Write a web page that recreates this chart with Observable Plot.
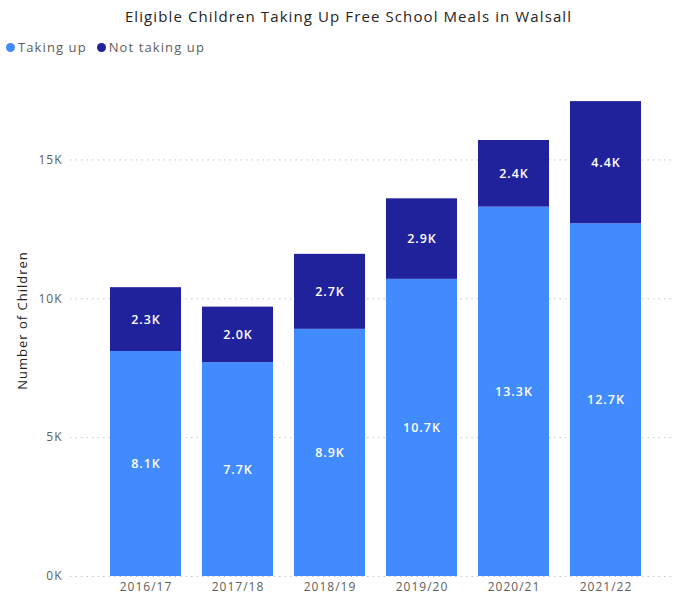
<!DOCTYPE html>
<html>
<head>
<meta charset="utf-8">
<script src="https://cdn.jsdelivr.net/npm/d3@7"></script>
<script src="https://cdn.jsdelivr.net/npm/@observablehq/plot@0.6"></script>
<style>
  html, body { margin: 0; padding: 0; background: #fff; }
  body { width: 685px; height: 601px; overflow: hidden; font-family: "Open Sans", "Segoe UI", sans-serif; }
  #title { height: 32px; line-height: 32px; text-align: center; padding-left: 12px; font-size: 15px; letter-spacing: 1.1px; color: #252423; }
  #legend { height: 30px; display: flex; align-items: center; padding-left: 6px; font-size: 13px; letter-spacing: 1.1px; color: #605e5c; }
  .item { display: flex; align-items: center; margin-right: 10px; }
  .dot { width: 9px; height: 9px; border-radius: 50%; margin-right: 3px; }
</style>
</head>
<body>
<div id="title">Eligible Children Taking Up Free School Meals in Walsall</div>
<div id="legend"></div>
<div id="chart"></div>
<script>
const years = ["2016/17", "2017/18", "2018/19", "2019/20", "2020/21", "2021/22"];
const seriesNames = ["Taking up", "Not taking up"];
const seriesColors = ["#418bff", "#20229b"];
const takingUp = [8.1, 7.7, 8.9, 10.7, 13.3, 12.7];      // thousands
const notTakingUp = [2.3, 2.0, 2.7, 2.9, 2.4, 4.4];      // thousands
const yTicks = [0, 5, 10, 15];
const yLabel = "Number of Children";

const rows = [];
years.forEach((y, i) => {
  rows.push({year: y, status: seriesNames[0], value: takingUp[i]});
  rows.push({year: y, status: seriesNames[1], value: notTakingUp[i]});
});

// legend
const legend = document.getElementById("legend");
seriesNames.forEach((n, i) => {
  const it = document.createElement("div");
  it.className = "item";
  it.innerHTML = `<span class="dot" style="background:${seriesColors[i]}"></span><span>${n}</span>`;
  legend.appendChild(it);
});

const chart = Plot.plot({
  width: 685,
  height: 539,
  marginLeft: 70,
  marginRight: 10,
  marginTop: 28,
  marginBottom: 25,
  style: {fontFamily: "'Open Sans', 'Segoe UI', sans-serif", fontSize: "12px", letterSpacing: "1px", color: "#605e5c", background: "#fff"},
  x: {domain: years, paddingInner: 0.23, paddingOuter: 0.4, align: 0.54, label: null, tickSize: 0, tickPadding: 6},
  y: {domain: [0, 17.5], ticks: yTicks, tickFormat: d => d + "K", label: null, tickSize: 0, tickPadding: 8},
  color: {domain: seriesNames, range: seriesColors},
  marks: [
    Plot.ruleY(yTicks, {stroke: "#c8c6c4", strokeDasharray: "1.5,4", strokeWidth: 1}),
    Plot.barY(rows, {x: "year", y: "value", fill: "status", order: seriesNames}),
    Plot.text(rows, Plot.stackY({x: "year", y: "value", z: "status", order: seriesNames,
      text: d => d.value.toFixed(1) + "K", fill: "white", fontSize: 12.5, fontWeight: 600})),
    Plot.text([yLabel], {frameAnchor: "left", textAnchor: "middle", rotate: -90, dx: -48, dy: -13, fontSize: 13, fill: "#252423"})
  ]
});
document.getElementById("chart").appendChild(chart);
</script>
</body>
</html>
